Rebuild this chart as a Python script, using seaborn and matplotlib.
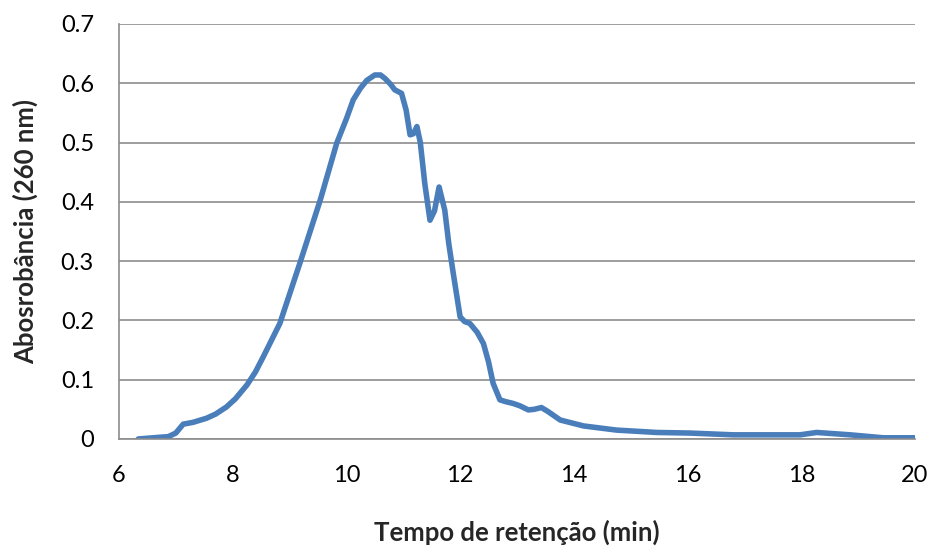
import matplotlib
matplotlib.use("Agg")
import matplotlib.pyplot as plt
import seaborn as sns
import pandas as pd

tempo = [6.34, 6.6, 6.87, 7.0, 7.13, 7.3, 7.54, 7.7, 7.89, 8.05, 8.25, 8.4, 8.54,
         8.83, 9.18, 9.54, 9.83, 10.0, 10.12, 10.25, 10.36, 10.50, 10.6, 10.68,
         10.78, 10.85, 10.97, 11.05, 11.12, 11.18, 11.24, 11.30, 11.38, 11.47,
         11.55, 11.63, 11.73, 11.80, 11.88, 12.0, 12.08, 12.17, 12.3, 12.41, 12.5,
         12.58, 12.70, 12.8, 12.93, 13.05, 13.20, 13.3, 13.43, 13.55, 13.76, 14.17,
         14.75, 15.46, 16.04, 16.80, 17.98, 18.27, 18.86, 19.44, 20.0]
absorbancia = [0.0, 0.002, 0.004, 0.010, 0.025, 0.028, 0.035, 0.042, 0.054, 0.068,
               0.091, 0.113, 0.139, 0.195, 0.296, 0.403, 0.499, 0.540, 0.572, 0.592,
               0.605, 0.614, 0.614, 0.608, 0.598, 0.589, 0.583, 0.555, 0.513, 0.515,
               0.527, 0.500, 0.430, 0.369, 0.385, 0.425, 0.386, 0.330, 0.279, 0.206,
               0.198, 0.195, 0.180, 0.161, 0.130, 0.094, 0.066, 0.063, 0.060, 0.056,
               0.049, 0.050, 0.053, 0.046, 0.032, 0.022, 0.015, 0.011, 0.010, 0.007,
               0.007, 0.011, 0.007, 0.002, 0.002]
xticks = [6, 8, 10, 12, 14, 16, 18, 20]
yticks = [0, 0.1, 0.2, 0.3, 0.4, 0.5, 0.6, 0.7]
ytick_labels = ["0", "0.1", "0.2", "0.3", "0.4", "0.5", "0.6", "0.7"]

sns.set_style("white")
plt.rcParams['font.family'] = ['Lato', 'DejaVu Sans']

df = pd.DataFrame({"t": tempo, "a": absorbancia})

fig = plt.figure(figsize=(9.33, 5.49), dpi=100)
ax = fig.add_axes([0.1275, 0.2004, 0.8532, 0.7559])
sns.lineplot(data=df, x="t", y="a", ax=ax, color="#4A7EBB", linewidth=4,
             solid_joinstyle="round", solid_capstyle="round")

ax.set_xlim(6, 20)
ax.set_ylim(0, 0.7)
ax.set_xticks(xticks)
ax.set_xticklabels([str(v) for v in xticks])
ax.set_yticks(yticks)
ax.set_yticklabels(ytick_labels)
ax.yaxis.grid(True, color="#8C8C8C", linewidth=1.2)
ax.set_axisbelow(True)
for s in ["top", "right"]:
    ax.spines[s].set_visible(False)
for s in ["left", "bottom"]:
    ax.spines[s].set_color("#8C8C8C")
    ax.spines[s].set_linewidth(1.2)
ax.tick_params(axis="both", labelsize=17, colors="#8C8C8C", labelcolor="black",
               length=5, width=1.2, direction="out")
ax.tick_params(axis="x", pad=14)
ax.tick_params(axis="y", pad=13)
ax.set_xlabel("Tempo de retenção (min)", fontsize=18.5, fontweight="bold", labelpad=24)
ax.set_ylabel("Abosrobância (260 nm)", fontsize=18.5, fontweight="bold", labelpad=16)

fig.savefig("out.png", dpi=100)
